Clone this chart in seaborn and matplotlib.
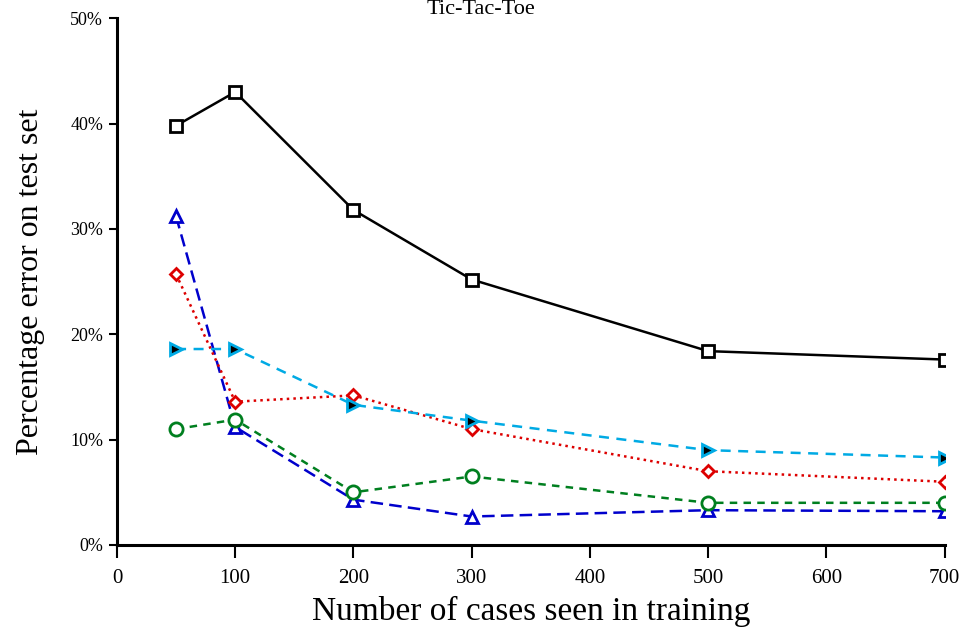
import matplotlib
matplotlib.use('Agg')
import matplotlib.pyplot as plt
import seaborn as sns
import pandas as pd
from matplotlib.ticker import PercentFormatter

# Data
cases = [50, 100, 200, 300, 500, 700]
err_black = [39.8, 43.0, 31.8, 25.2, 18.4, 17.6]
err_blue = [31.2, 11.2, 4.3, 2.7, 3.3, 3.2]
err_red = [25.7, 13.6, 14.2, 11.0, 7.0, 6.0]
err_cyan = [18.6, 18.6, 13.3, 11.8, 9.0, 8.3]
err_green = [11.0, 11.9, 5.0, 6.5, 4.0, 4.0]

sns.set_style('white')
plt.rcParams['font.family'] = ['Liberation Serif', 'DejaVu Serif']
plt.rcParams['text.color'] = 'black'
plt.rcParams['axes.labelcolor'] = 'black'
plt.rcParams['xtick.color'] = 'black'
plt.rcParams['ytick.color'] = 'black'

fig = plt.figure(figsize=(9.61, 6.30), dpi=100)
ax = fig.add_axes([0.1217, 0.135, 0.8613, 0.836])

styles = [
    (err_black, 'black', '-', 's', 'white', 'black', 9),
    (err_blue, '#0000CC', (0, (5, 2.5)), '^', 'white', '#0000CC', 8.5),
    (err_red, '#DD0000', ':', 'D', 'white', '#DD0000', 6.5),
    (err_cyan, '#00AAE4', (0, (4, 3)), '>', 'black', '#00AAE4', 9),
    (err_green, '#007F1F', (0, (3, 2.5)), 'o', 'white', '#007F1F', 9.5),
]

for vals, col, ls, mk, mfc, mec, ms in styles:
    df = pd.DataFrame({'cases': cases, 'err': vals})
    sns.lineplot(data=df, x='cases', y='err', ax=ax, color=col, linestyle=ls,
                 linewidth=1.8, marker=mk, markerfacecolor=mfc,
                 markeredgecolor=mec, markeredgewidth=2, markersize=ms)

ax.set_xlim(0, 700)
ax.set_ylim(0, 50)
ax.set_xticks(range(0, 701, 100))
ax.set_yticks(range(0, 51, 10))
ax.yaxis.set_major_formatter(PercentFormatter(decimals=0))

for s in ['top', 'right']:
    ax.spines[s].set_visible(False)
for s in ['left', 'bottom']:
    ax.spines[s].set_linewidth(2.2)
    ax.spines[s].set_color('black')

ax.tick_params(axis='x', bottom=True, direction='out', length=9, width=1.5,
               labelsize=15, pad=8)
ax.tick_params(axis='y', left=True, direction='out', length=6, width=1.5,
               labelsize=13, pad=4)

ax.set_xlabel('Number of cases seen in training', fontsize=24, labelpad=6)
ax.set_ylabel('Percentage error on test set', fontsize=23, labelpad=18)

fig.text(0.5, 1.0, 'Tic-Tac-Toe', ha='center', va='top', fontsize=16)

fig.savefig('out.png', dpi=100)
